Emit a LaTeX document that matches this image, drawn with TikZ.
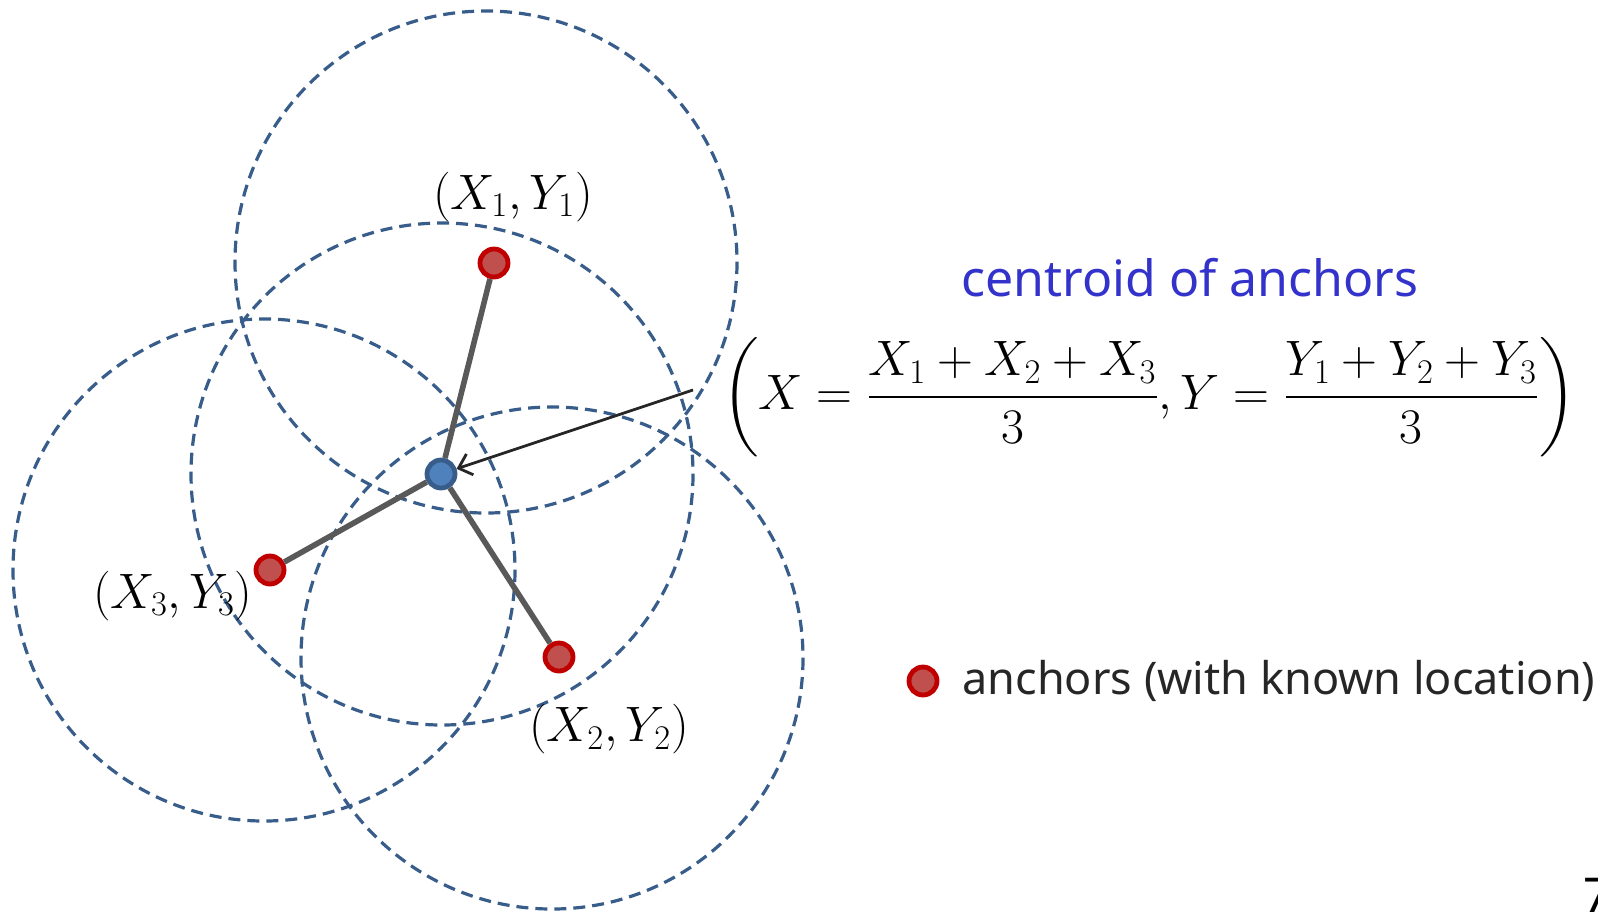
\documentclass[tikz,border=0pt]{standalone}
\usepackage{amsmath}
\usepackage{fontspec}
\setmainfont{Noto Sans}
\usepackage{tikz}
\usetikzlibrary{arrows.meta,positioning}

\definecolor{rangeblue}{HTML}{385D8A}
\definecolor{anchorfill}{HTML}{C0504D}
\definecolor{anchoredge}{HTML}{C00000}
\definecolor{centfill}{HTML}{4F81BD}
\definecolor{centedge}{HTML}{385D8A}
\definecolor{linkgray}{HTML}{595959}
\definecolor{titleblue}{HTML}{3333CC}
\definecolor{legendtext}{HTML}{262626}

\begin{document}
\begin{tikzpicture}[x=0.5pt, y=-0.5pt,
                    >={Straight Barb[length=6pt,width=11pt]},
                    every node/.style={font=\fontsize{24}{29}\selectfont},
                    rangecirc/.style={draw=rangeblue, line width=1.6pt,
                                      dash pattern=on 6pt off 3.5pt},
                    anchordot/.style={circle, inner sep=0pt, minimum size=14pt,
                                      line width=2.4pt, draw=anchoredge, fill=anchorfill},
                    centdot/.style={anchordot, draw=centedge, fill=centfill},
                    link/.style={draw=linkgray, line width=2.8pt}]
\useasboundingbox (0,0) rectangle (1598,911);
\draw[rangecirc] (486,262) circle[radius=251];
\draw[rangecirc] (442,474) circle[radius=251];
\draw[rangecirc] (264,570) circle[radius=251];
\draw[rangecirc] (552,658) circle[radius=251];
\node[anchordot] (a1) at (494,263) {};
\node[anchordot] (a2) at (559,657) {};
\node[anchordot] (a3) at (270,570) {};
\node[centdot]   (cen) at (441,474) {};
\draw[link] (cen) -- (a1);
\draw[link] (cen) -- (a2);
\draw[link] (cen) -- (a3);
\node[above=9pt of a1, xshift=9.5pt] (l1) {$(X_1,Y_1)$};
\node[below=12pt of a2, xshift=25pt]  (l2) {$(X_2,Y_2)$};
\node[left=-3pt of a3, yshift=-13pt]  (l3) {$(X_3,Y_3)$};
\node[font=\fontsize{24.5}{29}\selectfont] (cform) at (1149,397)
  {$\left(X=\dfrac{X_1+X_2+X_3}{3},Y=\dfrac{Y_1+Y_2+Y_3}{3}\right)$};
\node[text=titleblue, font=\fontsize{25}{30}\selectfont] (ctitle) at (1190,278)
  {centroid of anchors};
\coordinate (ptr) at (693,390);
\draw[->, line width=1.4pt, black!85] (ptr) -- (cen);
\node[anchordot] (ldot) at (923,681) {};
\node[right=8pt of ldot, text=legendtext, font=\fontsize{22.5}{27}\selectfont] (ltext)
  {anchors (with known location)};
\node[anchor=base west, inner sep=0pt, font=\fontsize{24}{28}\selectfont\bfseries] (pgno)
  at (1583,912) {7};
\end{tikzpicture}
\end{document}
